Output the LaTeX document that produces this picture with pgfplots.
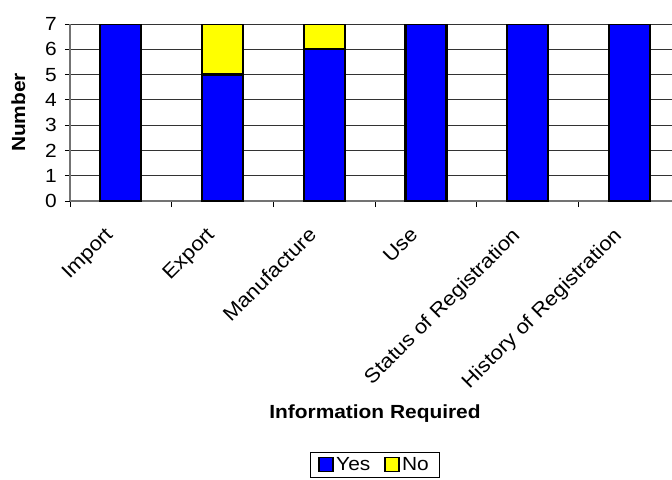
\documentclass[border=0pt]{standalone}
\usepackage{fontspec}
\setmainfont{Liberation Sans}[FakeStretch=1.1]
\usepackage{pgfplots}
\pgfplotsset{compat=1.18}

\newcommand\chartfont{\fontsize{19bp}{22bp}\selectfont}
\newcommand\catfont{\fontsize{20bp}{23bp}\selectfont}
\definecolor{barblue}{RGB}{0,0,255}
\definecolor{baryellow}{RGB}{255,255,0}

\begin{document}
\begin{tikzpicture}
\path[use as bounding box] (0,0) rectangle (672bp,-480bp);
\begin{axis}[
  at={(70bp,-201bp)}, anchor=south west,
  scale only axis, width=602bp, height=177bp,
  ybar stacked, bar width=0.403,
  xmin=-0.5, xmax=5.42, ymin=0, ymax=7,
  axis x line*=bottom, axis y line*=left,
  axis line style={black!55, line width=1.2bp},
  ytick={0,...,7},
  ymajorgrids, grid style={black!80, line width=0.8bp},
  xtick={0,...,5},
  xticklabels={Import,Export,Manufacture,Use,Status of Registration,History of Registration},
  minor xtick={-0.5,0.5,...,5.5},
  major x tick style={draw=none},
  minor x tick style={black, line width=0.8bp},
  major y tick style={black, line width=0.8bp},
  tick align=outside, major tick length=5bp, minor tick length=6bp,
  /pgf/number format/assume math mode=true,
  yticklabel style={font=\chartfont, inner sep=0pt, xshift=-8bp},
  xticklabel style={font=\catfont, rotate=45, anchor=north east, inner sep=0pt, xshift=-26bp, yshift=-2bp},
  ylabel={\bfseries Number},
  ylabel style={font=\chartfont, at={(axis description cs:-0.086,0.5)}, anchor=center},
  xlabel={\bfseries Information Required},
  xlabel style={font=\chartfont, at={(axis description cs:0.5066,-1.2)}, anchor=center},
  legend columns=2,
  legend style={at={(axis description cs:0.506,-1.418)}, anchor=north,
    draw=black, line width=0.6bp, font=\chartfont, inner xsep=8bp, inner ysep=3bp,
    /tikz/every even column/.append style={column sep=12bp}},
  legend image code/.code={\draw[#1, line width=1.8bp] (0bp,-7bp) rectangle (14bp,7bp);},
]
\addplot[fill=barblue, draw=black, line width=2.2bp]
  coordinates {(0,7) (1,5) (2,6) (3,7) (4,7) (5,7)};
\addplot[fill=baryellow, draw=black, line width=2.2bp]
  coordinates {(0,0) (1,2) (2,1) (3,0) (4,0) (5,0)};
\legend{Yes,No}
\end{axis}
\end{tikzpicture}
\end{document}
